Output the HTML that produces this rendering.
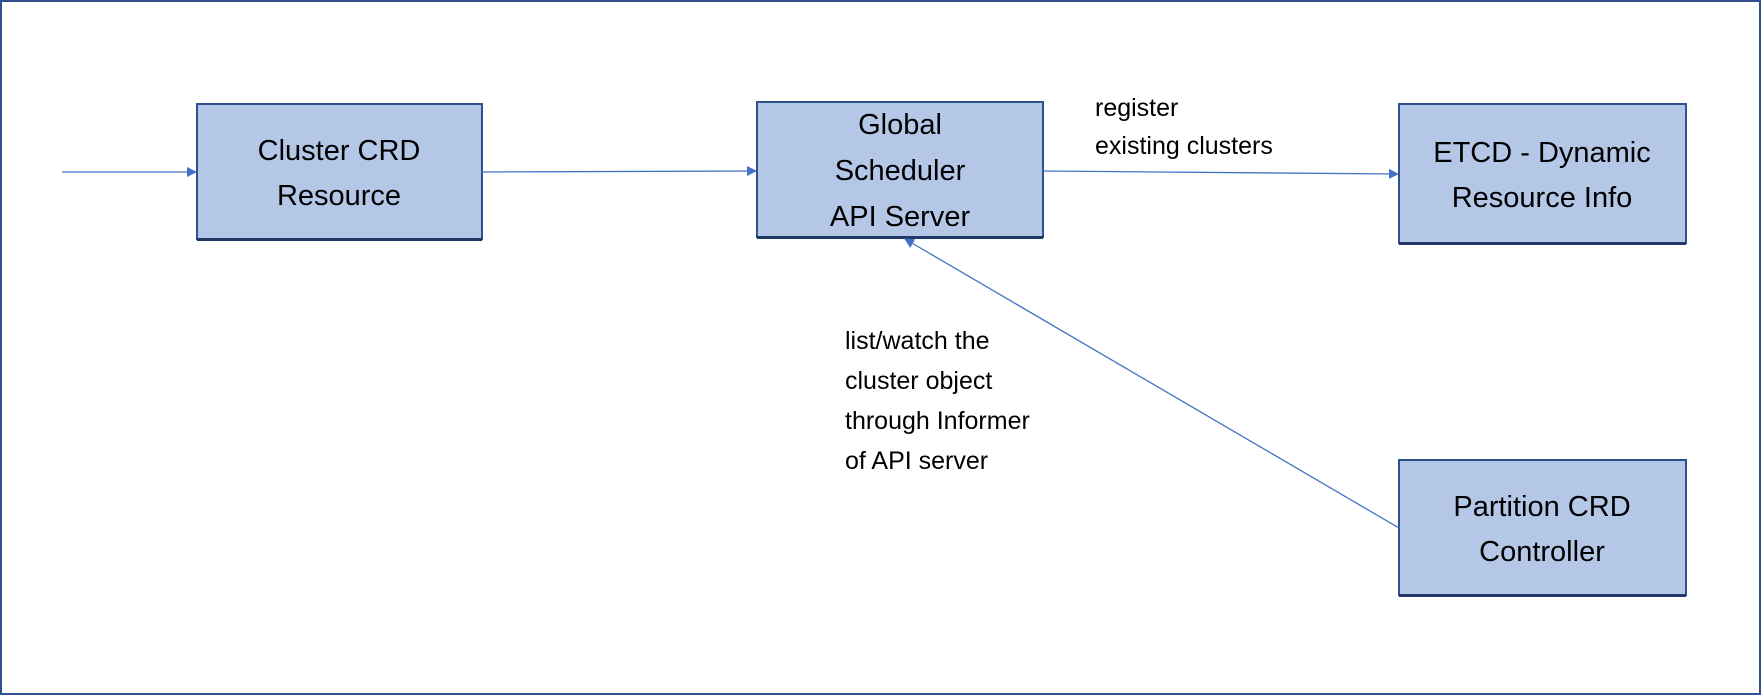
<!DOCTYPE html>
<html><head><meta charset="utf-8"><style>
html,body{margin:0;padding:0;background:#fff}
svg{display:block}
text{font-family:"Liberation Sans",sans-serif;fill:#000}
.b{font-size:29px}
.l{font-size:25px}
</style></head><body>
<svg width="1761" height="695" viewBox="0 0 1761 695">
<defs><marker id="a" markerWidth="10" markerHeight="10" refX="9" refY="5" orient="auto" markerUnits="userSpaceOnUse"><path d="M0,0 L10,5 L0,10 z" fill="#4472c4"/></marker></defs>
<rect x="1" y="1" width="1759" height="693" fill="#fff" stroke="#2f528f" stroke-width="2"/>
<g fill="#b4c7e7" stroke="#2f528f" stroke-width="2">
<rect x="197" y="104" width="285" height="135"/>
<rect x="757" y="102" width="286" height="135"/>
<rect x="1399" y="104" width="287" height="139"/>
<rect x="1399" y="460" width="287" height="135"/>
</g>
<g fill="#203864">
<rect x="197" y="238" width="285" height="3"/>
<rect x="757" y="236" width="286" height="3"/>
<rect x="1399" y="242" width="287" height="3"/>
<rect x="1399" y="594" width="287" height="3"/>
</g>
<g stroke="#4472c4" stroke-width="1.3" fill="none" marker-end="url(#a)">
<line x1="62" y1="172" x2="196" y2="172"/>
<line x1="482" y1="172" x2="756" y2="171"/>
<line x1="1043" y1="171" x2="1398" y2="174"/>
<line x1="1399" y1="528" x2="905" y2="239"/>
</g>
<g class="b" text-anchor="middle">
<text x="339" y="160">Cluster CRD</text>
<text x="339" y="205">Resource</text>
<text x="900" y="134">Global</text>
<text x="900" y="180">Scheduler</text>
<text x="900" y="226">API Server</text>
<text x="1542" y="162">ETCD - Dynamic</text>
<text x="1542" y="207">Resource Info</text>
<text x="1542" y="516">Partition CRD</text>
<text x="1542" y="561">Controller</text>
</g>
<g class="l">
<text x="1095" y="116">register</text>
<text x="1095" y="154">existing clusters</text>
<text x="845" y="349">list/watch the</text>
<text x="845" y="389">cluster object</text>
<text x="845" y="429">through Informer</text>
<text x="845" y="469">of API server</text>
</g>
</svg>
</body></html>
